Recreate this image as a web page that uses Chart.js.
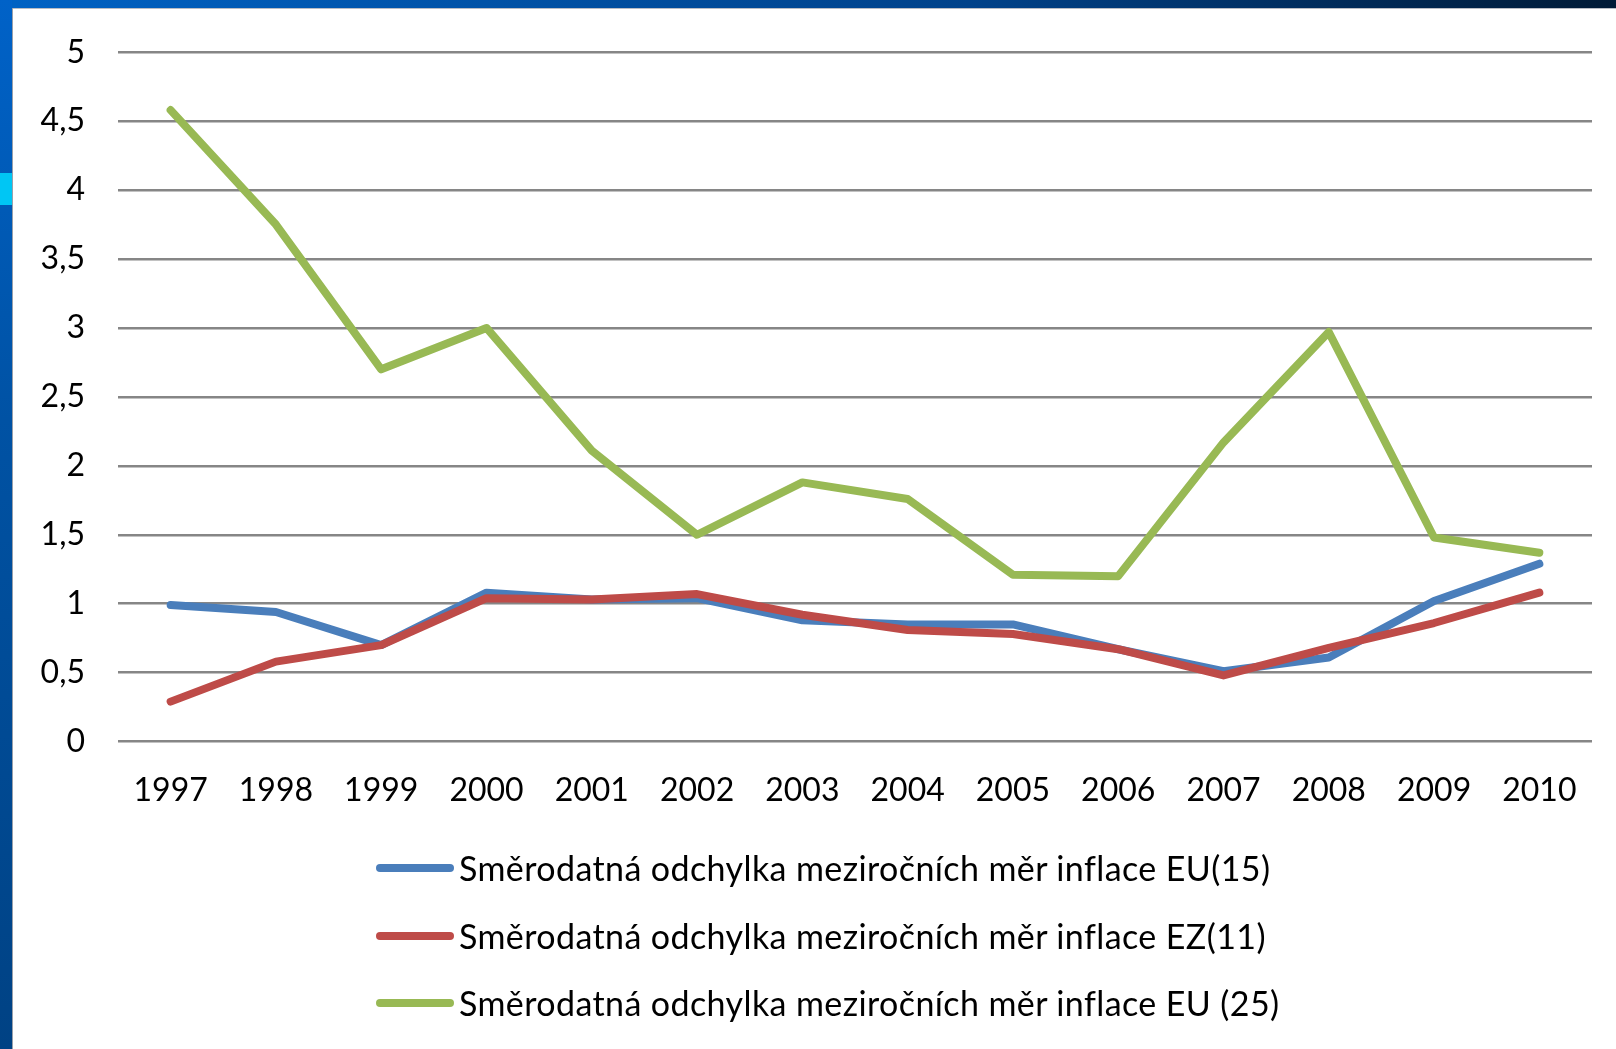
<!DOCTYPE html>
<html>
<head>
<meta charset="utf-8">
<script src="https://cdn.jsdelivr.net/npm/chart.js@4.4.0/dist/chart.umd.min.js"></script>
<style>
    html, body { margin: 0; padding: 0; background: #fff; overflow: hidden; }
    body { width: 1616px; height: 1049px; position: relative; font-family: Lato, sans-serif; }
    #topBar { position: absolute; left: 0; top: 0; width: 1616px; height: 8px;
        background: linear-gradient(to right, #0062c4, #00428a 60%, #001a36); }
    #topEdge { position: absolute; left: 12px; top: 8px; width: 1604px; height: 1px; background: #b8bcc4; }
    #leftBar { position: absolute; left: 0; top: 0; width: 12px; height: 1049px;
        background: linear-gradient(to bottom, #0062c8, #0052a4 40%, #004284); }
    #leftEdge { position: absolute; left: 12px; top: 8px; width: 1px; height: 1041px; background: #9aa0aa; }
    #leftMark { position: absolute; left: 0; top: 173px; width: 12px; height: 32px; background: #00c6f4; }
    #chartBox { position: absolute; left: 0; top: 0; width: 1616px; height: 1049px; }
    .legend-item { position: absolute; left: 376px; height: 34px; }
    .legend-line { position: absolute; left: 0; top: 13px; width: 78px; height: 8px; border-radius: 4px; }
    .legend-text { position: absolute; left: 83px; top: 0; line-height: 34px; font-size: 34px;
        letter-spacing: 0.4px; color: #000; white-space: nowrap; }
</style>
</head>
<body>
<div id="chartBox"><canvas id="devChart" width="1616" height="1049"></canvas></div>
<div id="topBar"></div>
<div id="leftBar"></div>
<div id="leftMark"></div>
<div id="topEdge"></div>
<div id="leftEdge"></div>
<div id="legend"></div>

<script>
// Chart data
const years = ['1997', '1998', '1999', '2000', '2001', '2002', '2003', '2004', '2005', '2006', '2007', '2008', '2009', '2010'];
const eu15 = [0.99, 0.94, 0.70, 1.08, 1.03, 1.04, 0.88, 0.85, 0.85, 0.67, 0.51, 0.61, 1.02, 1.29];
const ez11 = [0.29, 0.58, 0.70, 1.04, 1.03, 1.07, 0.92, 0.81, 0.78, 0.67, 0.48, 0.68, 0.86, 1.08];
const eu25 = [4.58, 3.75, 2.70, 3.00, 2.11, 1.50, 1.88, 1.76, 1.21, 1.20, 2.17, 2.97, 1.48, 1.37];
const yTickLabels = ['0', '0,5', '1', '1,5', '2', '2,5', '3', '3,5', '4', '4,5', '5'];
const seriesNames = [
    'Směrodatná odchylka meziročních měr inflace EU(15)',
    'Směrodatná odchylka meziročních měr inflace EZ(11)',
    'Směrodatná odchylka meziročních měr inflace EU (25)'
];
const seriesColors = ['#4a7ebb', '#be4b48', '#98b954'];

const tickFont = { family: 'Lato', size: 32 };

const makeDataset = (idx, values, order) => ({
    label: seriesNames[idx],
    data: values,
    borderColor: seriesColors[idx],
    backgroundColor: seriesColors[idx],
    borderWidth: 8,
    borderCapStyle: 'round',
    borderJoinStyle: 'round',
    pointRadius: 0,
    tension: 0,
    fill: false,
    order: order
});

const ctx = document.getElementById('devChart').getContext('2d');
const devChart = new Chart(ctx, {
    type: 'line',
    data: {
        labels: years,
        datasets: [
            makeDataset(0, eu15, 3),
            makeDataset(1, ez11, 2),
            makeDataset(2, eu25, 1)
        ]
    },
    options: {
        responsive: false,
        animation: false,
        layout: {
            padding: { left: 0, top: 41, right: 24, bottom: 209 }
        },
        plugins: {
            legend: { display: false },
            tooltip: { enabled: false }
        },
        scales: {
            y: {
                min: 0,
                max: 5,
                afterFit: (scale) => { scale.width = 118; },
                ticks: {
                    stepSize: 0.5,
                    color: '#000',
                    font: tickFont,
                    padding: 33,
                    callback: (value, index) => yTickLabels[index]
                },
                grid: {
                    color: '#868686',
                    lineWidth: 2.5,
                    drawTicks: false
                },
                border: { display: false }
            },
            x: {
                offset: true,
                ticks: {
                    color: '#000',
                    font: tickFont,
                    padding: 30,
                    maxRotation: 0,
                    autoSkip: false
                },
                grid: { display: false, drawTicks: false },
                border: { display: false }
            }
        }
    }
});

// Legend, one item per row
const legendCentres = [868, 936, 1003];
document.getElementById('legend').innerHTML = seriesNames.map((name, i) => `
    <div class="legend-item" style="top: ${legendCentres[i] - 17}px;">
        <div class="legend-line" style="background: ${seriesColors[i]};"></div>
        <div class="legend-text">${name}</div>
    </div>
`).join('');
</script>
</body>
</html>
